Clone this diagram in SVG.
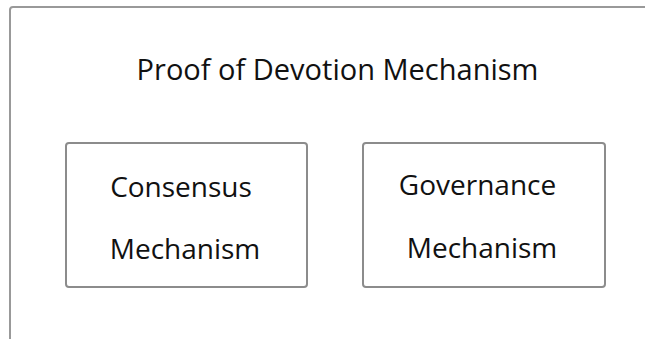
<svg xmlns="http://www.w3.org/2000/svg" width="645" height="339" viewBox="0 0 645 339">
  <style>
    .frame { fill: #ffffff; stroke: #999999; stroke-width: 2; }
    .box { fill: #ffffff; stroke: #8c8c8c; stroke-width: 2; }
    .label { font-family: "Open Sans", "Noto Sans", sans-serif; fill: #111111; }
    .title { font-size: 29px; }
    .name { font-size: 28px; }
  </style>
  <rect width="645" height="339" fill="#ffffff"/>
  <!-- outer container, open past the right and bottom edges -->
  <g id="container">
    <rect class="frame" x="10" y="7" width="660" height="360" rx="3"/>
    <text class="label title" x="337.5" y="80" text-anchor="middle">Proof of Devotion Mechanism</text>
  </g>
  <g id="consensus">
    <rect class="box" x="66" y="143" width="241" height="144" rx="3"/>
    <text class="label name" x="181" y="197" text-anchor="middle">Consensus</text>
    <text class="label name" x="185" y="259" text-anchor="middle">Mechanism</text>
  </g>
  <g id="governance">
    <rect class="box" x="363" y="143" width="242" height="144" rx="3"/>
    <text class="label name" x="477.5" y="195" text-anchor="middle">Governance</text>
    <text class="label name" x="482" y="258" text-anchor="middle">Mechanism</text>
  </g>
  <g id="connectors"></g>
</svg>
